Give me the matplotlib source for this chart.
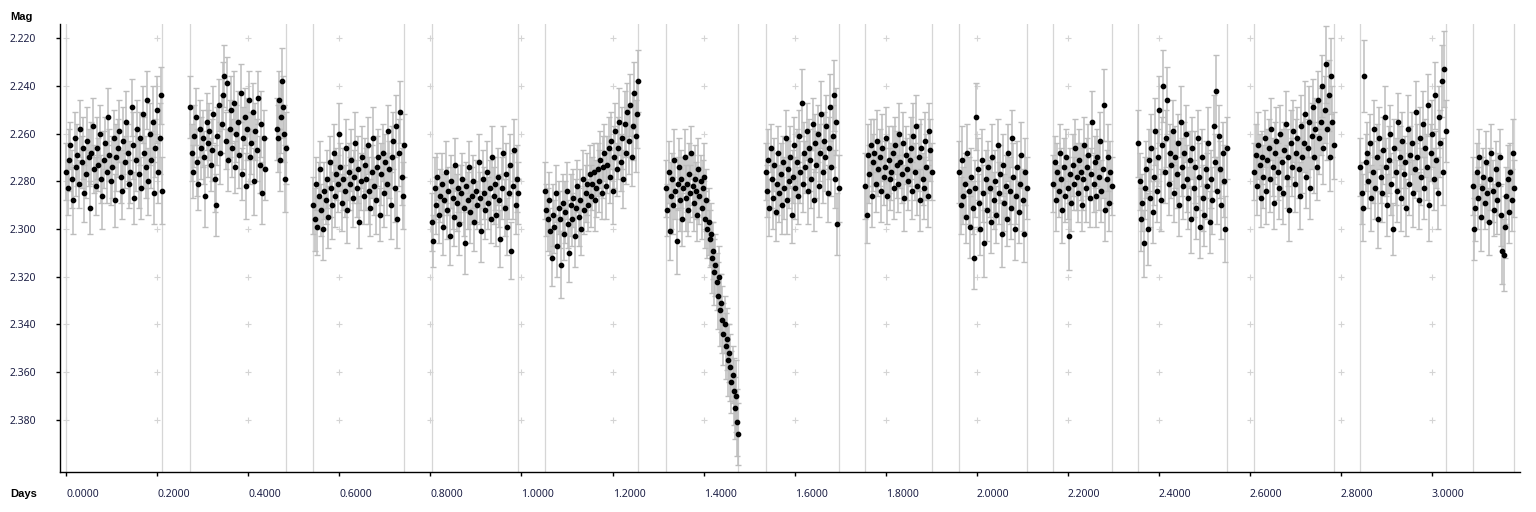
"""Differential light curve (Mag vs Days) with per-point error bars."""

import matplotlib
matplotlib.use("Agg")
import matplotlib.pyplot as plt
import numpy as np

plt.rcParams["font.family"] = ["Noto Sans", "DejaVu Sans"]

# observing nights: first and last frame (days)
night_start = [0.0000, 0.2724, 0.5426, 0.8034, 1.0516, 1.3181, 1.5365,
               1.7553, 1.9618, 2.1683, 2.3550, 2.6098, 2.8427, 3.0896]
night_end = [0.2109, 0.4833, 0.7425, 0.9930, 1.2566, 1.4763, 1.6968,
             1.9011, 2.1098, 2.2966, 2.5492, 2.7843, 3.0303, 3.1810]

# continuous runs inside the nights (days)
run_start = [0.0000, 0.2724, 0.4629, 0.5426, 0.8034, 1.0516, 1.3181, 1.5365,
             1.7553, 1.9618, 2.1683, 2.3550, 2.6098, 2.8427, 3.0896]
run_end = [0.2109, 0.4365, 0.4833, 0.7425, 0.9930, 1.2566, 1.4763, 1.6968,
           1.9011, 2.1098, 2.2966, 2.5492, 2.7843, 3.0303, 3.1810]

# magnitudes, in mmag above 2.000, and their errors in mmag
run01_mmag = [276, 283, 271, 265, 279, 288, 262, 274, 269, 281,
              258, 272, 266, 285, 277, 263, 270, 291, 268, 257,
              275, 282, 266, 273, 260, 279, 286, 271, 264, 276,
              253, 269, 280, 274, 262, 288, 270, 266, 259, 278,
              284, 263, 272, 255, 268, 281, 276, 249, 265, 287,
              271, 258, 277, 262, 283, 252, 268, 274, 246, 280,
              260, 271, 255, 285, 266, 250, 276, 262, 244, 284]
run01_err = [12, 11, 13, 10, 12, 14, 11, 12, 13, 10,
             12, 11, 13, 12, 10, 14, 12, 11, 13, 12,
             10, 12, 13, 11, 12, 10, 14, 12, 11, 13,
             12, 11, 10, 13, 12, 11, 14, 12, 13, 11,
             12, 14, 11, 13, 12, 10, 13, 12, 14, 11,
             13, 12, 14, 11, 13, 12, 15, 13, 12, 14,
             13, 12, 15, 13, 12, 14, 13, 15, 12, 14]

run02_mmag = [249, 268, 276, 261, 253, 272, 281, 258, 266, 262,
              270, 286, 255, 264, 259, 273, 267, 252, 279, 290,
              261, 248, 268, 256, 244, 236, 263, 239, 271, 258,
              250, 266, 247, 274, 260, 255, 269, 243, 277, 262,
              253, 282, 258, 246, 270, 264, 251, 280, 259, 267,
              245, 273, 256, 285, 262, 275]
run02_err = [13, 12, 11, 13, 12, 14, 11, 12, 13, 12,
             11, 13, 12, 14, 12, 11, 13, 12, 14, 13,
             12, 11, 13, 12, 14, 13, 12, 11, 13, 12,
             14, 12, 13, 11, 12, 13, 14, 12, 11, 13,
             12, 14, 13, 12, 11, 13, 12, 14, 12, 13,
             11, 12, 14, 13, 12, 13]

run03_mmag = [258, 262, 246, 271, 253, 238, 249, 260, 279, 266]
run03_err = [13, 14, 12, 13, 15, 14, 13, 12, 14, 15]

run04_mmag = [290, 296, 281, 299, 286, 275, 292, 300, 284, 288,
              279, 295, 272, 283, 290, 268, 286, 277, 281, 260,
              274, 289, 279, 284, 266, 292, 276, 281, 271, 287,
              278, 264, 283, 275, 297, 280, 270, 286, 273, 279,
              265, 284, 291, 276, 262, 282, 288, 274, 270, 294,
              277, 268, 285, 272, 281, 259, 275, 290, 270, 263,
              283, 257, 296, 268, 251, 278, 286, 265]
run04_err = [12, 13, 11, 12, 14, 12, 11, 13, 12, 10,
             12, 13, 11, 12, 14, 12, 13, 11, 12, 13,
             10, 12, 13, 11, 12, 14, 12, 11, 13, 12,
             11, 13, 12, 14, 11, 12, 13, 12, 11, 13,
             12, 14, 12, 11, 13, 12, 14, 13, 12, 11,
             13, 12, 14, 12, 13, 11, 12, 14, 13, 12,
             14, 13, 12, 14, 13, 12, 14, 13]

run05_mmag = [297, 305, 283, 290, 278, 294, 286, 281, 299, 288,
              276, 292, 284, 303, 280, 287, 295, 273, 289, 283,
              298, 285, 279, 291, 306, 282, 288, 274, 293, 286,
              280, 297, 284, 290, 272, 287, 301, 279, 285, 292,
              276, 289, 283, 296, 270, 286, 281, 294, 278, 288,
              304, 283, 268, 291, 277, 299, 285, 273, 309, 282,
              267, 290, 279, 285]
run05_err = [12, 11, 13, 12, 10, 12, 11, 13, 12, 11,
             13, 12, 10, 12, 11, 13, 12, 11, 12, 10,
             13, 12, 11, 12, 13, 10, 12, 11, 13, 12,
             11, 12, 13, 10, 12, 11, 13, 12, 11, 12,
             13, 11, 12, 10, 13, 12, 11, 13, 12, 11,
             12, 13, 11, 12, 13, 12, 11, 13, 12, 14,
             13, 12, 14, 13]

run06_mmag = [284, 292, 296, 288, 301, 312, 294, 299, 285, 307,
              291, 296, 315, 289, 302, 293, 284, 298, 310, 290,
              296, 287, 303, 291, 282, 295, 288, 300, 279, 292,
              285, 281, 290, 277, 286, 281, 276, 288, 283, 275,
              280, 271, 285, 274, 268, 282, 273, 266, 278, 263,
              284, 270, 259, 275, 266, 255, 272, 262, 279, 256,
              268, 251, 263, 248, 270, 257, 243, 261, 252, 238]
run06_err = [12, 11, 13, 12, 10, 12, 13, 11, 12, 13,
             11, 12, 14, 12, 11, 13, 12, 10, 12, 13,
             11, 12, 13, 12, 11, 12, 13, 11, 12, 10,
             12, 13, 11, 12, 13, 11, 12, 13, 12, 11,
             13, 12, 11, 13, 12, 14, 12, 13, 11, 12,
             14, 13, 12, 11, 13, 14, 12, 13, 12, 14,
             13, 12, 14, 13, 12, 14, 13, 15, 14, 13]

run07_mmag = [283, 292, 276, 301, 286, 279, 290, 271, 284, 305,
              281, 274, 288, 279, 296, 283, 270, 287, 281, 292,
              277, 285, 268, 282, 289, 279, 284, 294, 275, 286,
              280, 291, 283, 278, 296, 288, 300, 297, 304, 302,
              312, 309, 318, 315, 322, 328, 320, 334, 331, 338,
              344, 340, 349, 346, 355, 352, 358, 364, 361, 368,
              375, 370, 381, 386]
run07_err = [12, 11, 13, 12, 14, 11, 12, 13, 12, 14,
             11, 12, 13, 12, 11, 13, 12, 14, 12, 11,
             13, 12, 11, 13, 12, 14, 12, 11, 13, 12,
             11, 13, 12, 14, 12, 13, 12, 14, 12, 13,
             15, 12, 14, 13, 12, 14, 13, 15, 12, 14,
             13, 12, 14, 13, 15, 12, 14, 13, 12, 14,
             13, 15, 14, 13]

run08_mmag = [276, 284, 271, 291, 266, 279, 287, 273, 293, 281,
              268, 285, 277, 290, 272, 283, 262, 288, 275, 280,
              270, 294, 278, 265, 283, 272, 286, 261, 276, 247,
              281, 268, 274, 259, 284, 266, 271, 279, 256, 288,
              264, 273, 260, 282, 268, 252, 276, 263, 270, 257,
              285, 266, 249, 274, 261, 244, 279, 255, 298, 283]
run08_err = [12, 11, 13, 12, 10, 12, 13, 11, 12, 13,
             11, 12, 13, 12, 11, 13, 12, 14, 12, 11,
             13, 12, 11, 12, 13, 14, 12, 11, 13, 14,
             12, 13, 11, 12, 14, 12, 13, 12, 11, 13,
             12, 14, 12, 13, 12, 14, 13, 12, 14, 13,
             12, 13, 14, 12, 13, 15, 12, 14, 13, 14]

run09_mmag = [282, 294, 269, 277, 265, 286, 272, 268, 281, 263,
              275, 270, 284, 266, 278, 274, 262, 286, 271, 279,
              276, 268, 283, 265, 273, 281, 260, 272, 277, 264,
              287, 269, 275, 280, 271, 266, 284, 261, 276, 257,
              282, 270, 288, 266, 279, 283, 263, 274, 286, 259,
              267, 276]
run09_err = [14, 12, 13, 12, 11, 13, 12, 14, 12, 13,
             11, 12, 13, 14, 12, 11, 13, 12, 14, 13,
             12, 11, 13, 12, 14, 12, 13, 11, 12, 13,
             14, 12, 13, 12, 11, 13, 12, 14, 12, 13,
             12, 14, 13, 12, 11, 13, 12, 14, 13, 12,
             13, 12]

run10_mmag = [276, 290, 271, 286, 281, 295, 268, 284, 299, 278,
              291, 312, 283, 253, 275, 289, 300, 271, 285, 306,
              279, 292, 274, 283, 297, 270, 288, 280, 294, 265,
              285, 277, 302, 273, 289, 282, 296, 268, 284, 291,
              262, 278, 300, 286, 274, 293, 281, 269, 288, 302,
              276, 283]
run10_err = [13, 12, 14, 12, 13, 11, 12, 14, 13, 12,
             11, 13, 12, 14, 13, 12, 11, 13, 12, 14,
             12, 13, 11, 12, 13, 14, 12, 13, 12, 11,
             13, 12, 14, 13, 12, 13, 11, 12, 14, 13,
             12, 14, 13, 12, 11, 13, 12, 14, 13, 12,
             14, 13]

run11_mmag = [281, 272, 288, 276, 284, 268, 279, 292, 274, 286,
              270, 283, 303, 277, 289, 273, 281, 266, 278, 285,
              271, 276, 290, 279, 265, 283, 274, 269, 287, 277,
              255, 281, 272, 286, 270, 278, 263, 284, 275, 248,
              292, 279, 270, 289, 276, 282]
run11_err = [12, 11, 13, 12, 11, 12, 13, 14, 12, 11,
             12, 13, 14, 11, 12, 13, 11, 12, 14, 12,
             13, 12, 11, 13, 12, 14, 12, 13, 12, 11,
             13, 12, 11, 13, 12, 14, 12, 13, 12, 15,
             13, 12, 14, 12, 13, 12]

run12_mmag = [264, 280, 296, 289, 306, 283, 275, 300, 271, 287,
              266, 293, 278, 259, 284, 270, 250, 288, 265, 240,
              276, 262, 246, 281, 268, 273, 259, 285, 270, 277,
              264, 290, 255, 274, 282, 268, 260, 279, 287, 271,
              296, 266, 283, 274, 291, 262, 278, 299, 270, 287,
              294, 275, 282, 264, 297, 279, 288, 257, 272, 242,
              284, 261, 275, 290, 268, 280, 300, 266]
run12_err = [14, 12, 13, 12, 14, 13, 12, 15, 13, 12,
             14, 13, 12, 14, 13, 12, 14, 13, 12, 15,
             13, 12, 14, 13, 12, 14, 13, 12, 13, 14,
             12, 13, 15, 12, 14, 13, 12, 14, 13, 12,
             14, 13, 12, 15, 13, 12, 14, 13, 12, 14,
             13, 12, 14, 15, 13, 12, 14, 13, 12, 15,
             14, 13, 12, 14, 13, 15, 14, 13]

run13_mmag = [276, 269, 282, 265, 273, 287, 270, 278, 262, 284,
              271, 266, 279, 258, 274, 289, 268, 263, 276, 283,
              260, 272, 285, 267, 256, 278, 270, 292, 264, 274,
              259, 281, 268, 262, 275, 286, 257, 270, 264, 252,
              278, 266, 255, 283, 261, 249, 270, 258, 274, 246,
              262, 255, 240, 266, 250, 231, 258, 244, 270, 236,
              255, 265]
run13_err = [12, 13, 12, 14, 13, 12, 11, 13, 12, 14,
             13, 12, 14, 13, 12, 11, 13, 14, 12, 13,
             12, 14, 13, 12, 14, 13, 12, 13, 14, 12,
             13, 12, 14, 13, 12, 14, 13, 15, 12, 14,
             13, 12, 15, 13, 14, 12, 15, 13, 14, 12,
             15, 14, 13, 15, 14, 16, 13, 15, 14, 16,
             15, 14]

run14_mmag = [274, 285, 291, 236, 272, 268, 280, 264, 287, 276,
              258, 283, 270, 296, 262, 278, 285, 267, 253, 274,
              290, 271, 260, 281, 300, 266, 276, 284, 255, 270,
              287, 263, 277, 272, 291, 258, 281, 269, 264, 285,
              275, 251, 270, 288, 262, 278, 256, 283, 266, 274,
              248, 290, 268, 260, 279, 244, 271, 285, 253, 264,
              238, 276, 233, 259]
run14_err = [12, 13, 14, 15, 12, 13, 11, 12, 14, 13,
             12, 13, 14, 12, 13, 11, 12, 14, 13, 12,
             13, 14, 12, 13, 11, 12, 14, 13, 12, 13,
             14, 12, 13, 11, 12, 14, 13, 12, 13, 14,
             12, 13, 14, 12, 13, 12, 14, 13, 12, 14,
             13, 15, 12, 14, 13, 14, 12, 15, 13, 14,
             15, 14, 16, 13]

run15_mmag = [282, 300, 291, 276, 287, 270, 295, 283, 278, 289,
              272, 285, 297, 279, 268, 284, 292, 275, 288, 281,
              270, 294, 309, 311, 299, 286, 279, 293, 276, 288,
              268, 283]
run15_err = [12, 13, 14, 12, 13, 12, 14, 13, 12, 11,
             13, 12, 14, 13, 12, 13, 11, 12, 14, 13,
             12, 13, 14, 15, 13, 12, 14, 13, 12, 13,
             14, 12]

run_mmag = [run01_mmag, run02_mmag, run03_mmag, run04_mmag, run05_mmag,
            run06_mmag, run07_mmag, run08_mmag, run09_mmag, run10_mmag,
            run11_mmag, run12_mmag, run13_mmag, run14_mmag, run15_mmag]
run_err = [run01_err, run02_err, run03_err, run04_err, run05_err,
           run06_err, run07_err, run08_err, run09_err, run10_err,
           run11_err, run12_err, run13_err, run14_err, run15_err]

x_ticks = [0.0, 0.2, 0.4, 0.6, 0.8, 1.0, 1.2, 1.4, 1.6, 1.8,
           2.0, 2.2, 2.4, 2.6, 2.8, 3.0]
y_ticks = [2.22, 2.24, 2.26, 2.28, 2.30, 2.32, 2.34, 2.36, 2.38]

LABEL_COLOR = "#1c1f45"

fig = plt.figure(figsize=(15.36, 5.12), dpi=100)
ax = fig.add_axes([60 / 1536, 40 / 512, 1460 / 1536, 448 / 512])

# night separators and the "+" grid
for t in night_start + night_end:
    ax.axvline(t, color="#d6d6d6", linewidth=0.9, zorder=0.5)
gx, gy = np.meshgrid(x_ticks, y_ticks)
ax.plot(gx.ravel(), gy.ravel(), linestyle="none", marker="+", markersize=5,
        markeredgewidth=0.8, color="#d4d4d4", zorder=0.6)

for t0, t1, mm, ee in zip(run_start, run_end, run_mmag, run_err):
    assert len(mm) == len(ee), (t0, len(mm), len(ee))
    t = np.linspace(t0, t1, len(mm))
    mag = 2.0 + np.asarray(mm) / 1000.0
    err = np.asarray(ee) / 1000.0
    ax.errorbar(t, mag, yerr=err, fmt="o", markersize=3.1, color="black",
                ecolor="#bdbdbd", elinewidth=1.1, capsize=2.5, capthick=1.0)

ax.set_xlim(-0.0138, 3.1935)
ax.set_ylim(2.4018, 2.2141)

ax.set_xticks(x_ticks)
ax.set_xticklabels([f"{v:.4f}" for v in x_ticks], ha="left")
ax.set_yticks(y_ticks)
ax.set_yticklabels([f"{v:.3f}" for v in y_ticks])
ax.tick_params(axis="x", direction="out", length=3, width=1, pad=9,
               labelsize=7.5, labelcolor=LABEL_COLOR)
ax.tick_params(axis="y", direction="out", length=3, width=1, pad=14,
               labelsize=7.5, labelcolor=LABEL_COLOR)

for side in ("top", "right"):
    ax.spines[side].set_visible(False)
for side in ("left", "bottom"):
    ax.spines[side].set_linewidth(1.0)

for label, ypix in (("Mag", 17), ("Days", 494)):
    fig.text(10 / 1536, 1 - ypix / 512, label, fontsize=8, fontweight="bold",
             family=["Liberation Sans", "DejaVu Sans"], ha="left", va="center")

fig.savefig("out.png", dpi=100)
